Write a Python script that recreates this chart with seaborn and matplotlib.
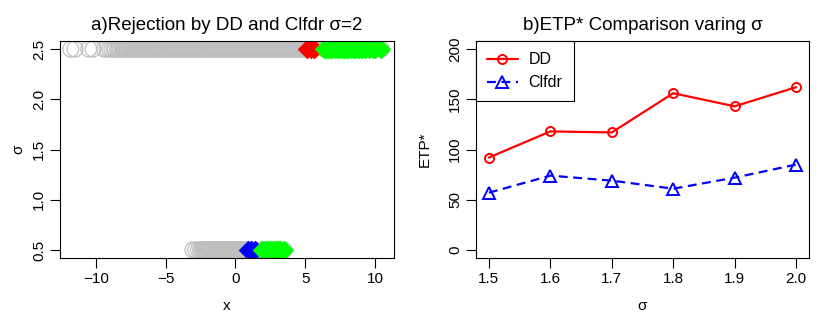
import matplotlib
matplotlib.use('Agg')
import numpy as np
import pandas as pd
import matplotlib.pyplot as plt
import seaborn as sns

# ---- panel a: observed x values on the two sigma rows ----
sigma_top = 2.5
x_top = [-11.8, -11.5, -10.5, -10.2, -9.4, -9.2, -9.0, -8.85, -8.7, -8.6,
         -8.45, -8.35, -8.25, -8.12, -8.03, -7.95, -7.84, -7.76, -7.65, -7.57,
         -7.46, -7.38, -7.27, -7.19, -7.08, -6.99, -6.9, -6.8, -6.72, -6.61,
         -6.53, -6.42, -6.34, -6.23, -6.15, -6.04, -5.96, -5.85, -5.77, -5.66,
         -5.58, -5.47, -5.39, -5.28, -5.2, -5.09, -5.01, -4.9, -4.82, -4.71,
         -4.63, -4.52, -4.44, -4.33, -4.25, -4.14, -4.06, -3.95, -3.87, -3.76,
         -3.68, -3.57, -3.49, -3.38, -3.3, -3.19, -3.11, -3.0, -2.92, -2.81,
         -2.73, -2.62, -2.54, -2.43, -2.35, -2.24, -2.16, -2.05, -1.97, -1.86,
         -1.78, -1.67, -1.59, -1.48, -1.4, -1.29, -1.21, -1.1, -1.02, -0.91,
         -0.83, -0.72, -0.64, -0.53, -0.45, -0.34, -0.26, -0.15, -0.07, 0.04,
         0.12, 0.23, 0.31, 0.42, 0.5, 0.61, 0.69, 0.8, 0.88, 0.99,
         1.07, 1.18, 1.26, 1.37, 1.45, 1.56, 1.64, 1.75, 1.83, 1.94,
         2.02, 2.13, 2.21, 2.32, 2.4, 2.51, 2.59, 2.7, 2.78, 2.89,
         2.97, 3.08, 3.16, 3.27, 3.35, 3.46, 3.54, 3.65, 3.73, 3.84,
         3.92, 4.03, 4.11, 4.22, 4.3, 4.41, 4.49, 4.6, 4.68, 4.79,
         4.87, 4.98, 5.06, 5.15, 5.4, 5.65, 6.35, 6.5, 6.65, 6.8,
         6.95, 7.1, 7.3, 7.45, 7.6, 7.8, 7.95, 8.1, 8.3, 8.5,
         8.65, 8.85, 9.05, 9.3, 9.55, 9.85, 10.0, 10.45]

sigma_bottom = 0.5
x_bottom = [-3.05, -2.85, -2.65, -2.5, -2.4, -2.31, -2.24, -2.16, -2.09, -2.01,
            -1.94, -1.86, -1.79, -1.71, -1.64, -1.56, -1.49, -1.41, -1.34, -1.26,
            -1.19, -1.11, -1.04, -0.96, -0.89, -0.81, -0.74, -0.66, -0.59, -0.51,
            -0.44, -0.36, -0.29, -0.21, -0.14, -0.06, 0.01, 0.09, 0.16, 0.24,
            0.31, 0.39, 0.46, 0.54, 0.61, 0.69, 0.76, 0.9, 1.15, 1.4,
            1.9, 2.1, 2.3, 2.5, 2.7, 2.9, 3.05, 3.2, 3.5]

# rejection cut-offs (x above the cut is rejected)
dd_cut = {sigma_top: 5.1, sigma_bottom: 1.7}
clfdr_cut = {sigma_top: 6.0, sigma_bottom: 0.8}

# ---- panel b: ETP* versus sigma ----
sigmas = [1.5, 1.6, 1.7, 1.8, 1.9, 2.0]
etp_dd = [92, 118, 117, 156, 143, 162]
etp_clfdr = [57, 74, 69, 61, 72, 85]

# build a table for panel a
df = pd.DataFrame({
    'x': x_top + x_bottom,
    'sigma': [sigma_top] * len(x_top) + [sigma_bottom] * len(x_bottom),
})
rej_dd = df.x > df.sigma.map(dd_cut)
rej_cl = df.x > df.sigma.map(clfdr_cut)
df['status'] = 'none'
df.loc[rej_dd & ~rej_cl, 'status'] = 'DD'
df.loc[~rej_dd & rej_cl, 'status'] = 'Clfdr'
df.loc[rej_dd & rej_cl, 'status'] = 'both'

sns.set_style('white')
plt.rcParams['font.family'] = ['Liberation Sans', 'DejaVu Sans']
plt.rcParams['axes.unicode_minus'] = True
plt.rcParams['text.color'] = 'black'
plt.rcParams['axes.labelcolor'] = 'black'
plt.rcParams['xtick.color'] = 'black'
plt.rcParams['ytick.color'] = 'black'

fig = plt.figure(figsize=(8.3, 3.19), dpi=100)
ax1 = fig.add_axes([60 / 830, 1 - 258 / 319, 334 / 830, 217 / 319])
ax2 = fig.add_axes([476 / 830, 1 - 258 / 319, 333 / 830, 217 / 319])


def r_style(ax):
    for s in ax.spines.values():
        s.set_visible(True)
        s.set_color('black')
        s.set_linewidth(0.8)
    ax.tick_params(length=7, width=0.8, pad=3, labelsize=11,
                   colors='black', direction='out', bottom=True, left=True)
    ax.tick_params(axis='y', labelrotation=90)
    for lab in ax.get_yticklabels():
        lab.set_va('center')


# panel a
sns.scatterplot(data=df, x='x', y='sigma', ax=ax1, marker='o', s=130,
                facecolor='none', edgecolor='#bebebe', linewidth=0.9,
                legend=False)
colours = {'DD': '#ff0000', 'Clfdr': '#0000ff', 'both': '#00ff00'}
for st in ['DD', 'Clfdr', 'both']:
    sub = df[df.status == st]
    sns.scatterplot(data=sub, x='x', y='sigma', ax=ax1, marker='D', s=100,
                    color=colours[st], linewidth=0, legend=False)

ax1.set_xlim(-12.57, 11.36)
ax1.set_ylim(0.42, 2.58)
ax1.set_xticks([-10, -5, 0, 5, 10])
ax1.set_yticks([0.5, 1.0, 1.5, 2.0, 2.5])
ax1.set_yticklabels(['0.5', '1.0', '1.5', '2.0', '2.5'])
ax1.set_title('a)Rejection by DD and Clfdr σ=2', fontsize=13.5, pad=8)
ax1.set_xlabel('x', fontsize=11)
ax1.set_ylabel('σ', fontsize=11)
r_style(ax1)
ax1.xaxis.set_label_coords(0.5, -0.19)
ax1.yaxis.set_label_coords(-0.105, 0.5)

# panel b
sns.lineplot(x=sigmas, y=etp_dd, ax=ax2, color='#ff0000', linewidth=1.6,
             marker='o', markersize=6.5, markerfacecolor='none',
             markeredgecolor='#ff0000', markeredgewidth=1.4, label='DD')
sns.lineplot(x=sigmas, y=etp_clfdr, ax=ax2, color='#0000ff', linewidth=1.6,
             linestyle=(0, (4, 2.5)), marker='^', markersize=8,
             markerfacecolor='none', markeredgecolor='#0000ff',
             markeredgewidth=1.4, label='Clfdr')
ax2.set_xlim(1.479, 2.021)
ax2.set_ylim(-8, 208)
ax2.set_xticks(sigmas)
ax2.set_xticklabels(['1.5', '1.6', '1.7', '1.8', '1.9', '2.0'])
ax2.set_yticks([0, 50, 100, 150, 200])
ax2.set_title('b)ETP* Comparison varing σ', fontsize=13.5, pad=8)
ax2.set_xlabel('σ', fontsize=11)
ax2.set_ylabel('ETP*', fontsize=11)
r_style(ax2)
ax2.xaxis.set_label_coords(0.5, -0.19)
ax2.yaxis.set_label_coords(-0.132, 0.5)

leg = ax2.legend(loc='upper left', borderaxespad=0, fancybox=False,
                 edgecolor='black', framealpha=1, fontsize=11.5,
                 handlelength=1.9, handletextpad=0.7, labelspacing=0.5,
                 borderpad=0.7)
leg.get_frame().set_linewidth(0.8)

fig.savefig('out.png', dpi=100)
